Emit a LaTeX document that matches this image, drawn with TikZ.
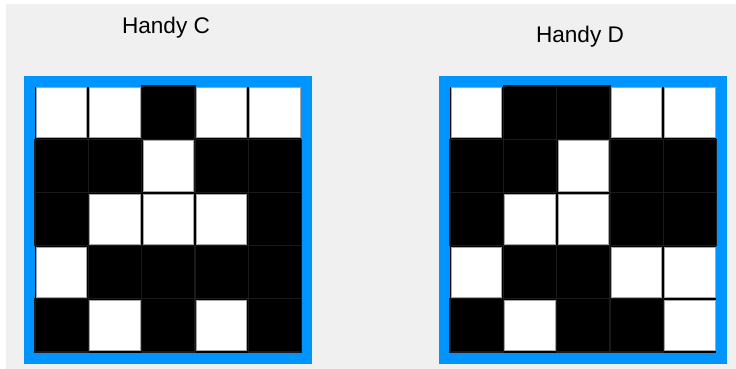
\documentclass[tikz,border=0pt]{standalone}
\usepackage{fontspec}
\setmainfont{Liberation Sans}
\definecolor{handyblue}{RGB}{0,148,255}
\definecolor{panelgray}{RGB}{240,240,240}
\definecolor{gridline}{RGB}{26,26,26}
\tikzset{
  frame/.style={draw=handyblue,line width=11pt,fill=black,minimum width=277pt,
                minimum height=277pt,inner sep=0pt},
  cell0/.style={draw=gridline,fill=black,line width=1.3pt,minimum width=53.3pt,
                minimum height=53.2pt,inner sep=0pt},
  cell1/.style={draw=black!35,fill=white,line width=0.8pt,minimum width=50.3pt,
                minimum height=50.2pt,inner sep=0pt},
  title/.style={anchor=base,font=\fontsize{22.6}{27}\selectfont}
}
\begin{document}
\begin{tikzpicture}[x=1pt,y=-1pt]
    \useasboundingbox (0,0) rectangle (736,369);
    \fill[panelgray] (6,4) rectangle (736,369);
    \node[title] (titleC) at (166,34) {Handy C};
    \node[title] (titleD) at (580,43) {Handy D};
    \node[frame] (frameC) at (168,219.75) {};
    \node[frame] (frameD) at (582.75,219.75) {};
    % 1 = white cell, 0 = black cell
    \foreach \r/\rowC/\rowD in {
      1/{1,1,0,1,1}/{1,0,0,1,1},
      2/{0,0,1,0,0}/{0,0,1,0,0},
      3/{0,1,1,1,0}/{0,1,1,0,0},
      4/{1,0,0,0,0}/{1,0,0,1,1},
      5/{0,1,0,1,0}/{0,1,0,0,1}}{
      \foreach \v [count=\c] in \rowC
        \node[cell\v] (C-\r-\c) at ({35+(\c-0.5)*53.3},{86+(\r-0.5)*53.2}) {};
      \foreach \v [count=\c] in \rowD
        \node[cell\v] (D-\r-\c) at ({450+(\c-0.5)*53.3},{86+(\r-0.5)*53.2}) {};
    }
\end{tikzpicture}
\end{document}
